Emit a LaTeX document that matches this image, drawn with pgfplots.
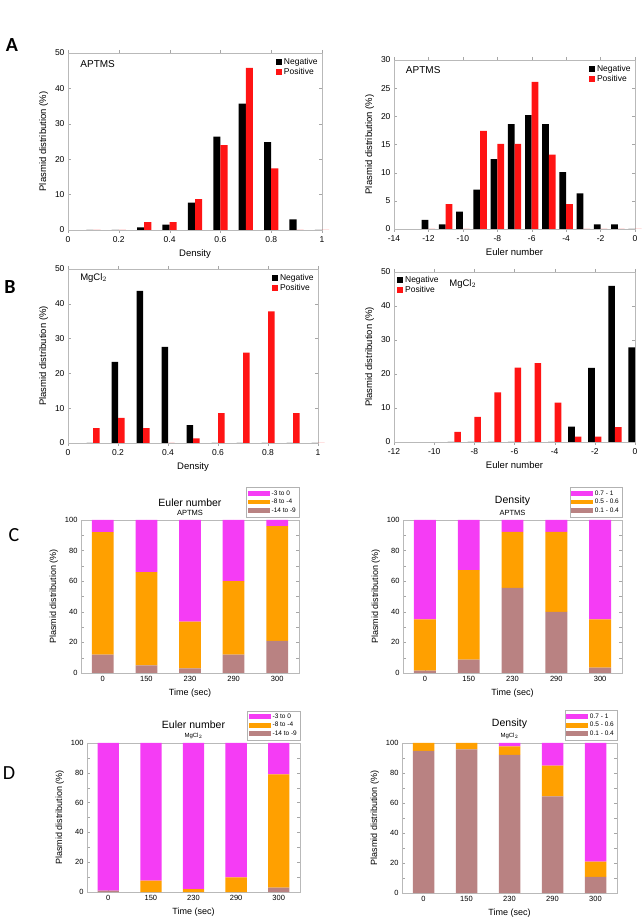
\documentclass[border=0pt]{standalone}
\usepackage{fontspec}
\setmainfont{Liberation Sans}
\newfontfamily\calib{Carlito}
\usepackage{pgfplots}
\pgfplotsset{compat=1.18}
\definecolor{posc}{RGB}{255,20,20}
\definecolor{mag}{RGB}{245,60,245}
\definecolor{org}{RGB}{255,160,0}
\definecolor{brn}{RGB}{185,130,130}
\newcommand{\fs}[1]{\fontsize{#1}{#1}\selectfont}
\pgfplotsset{
  base/.style={scale only axis, clip=false, ymin=0,
    axis line style={gray!55, line width=0.5pt},
    tick style={gray!70}, tick align=inside, major tick length=3pt,
    ticklabel style={font=\fs{8.5}}, label style={font=\fs{9.5}},
    ylabel={Plasmid distribution (\%)},
    /pgf/number format/assume math mode=true},
  hist/.style={base, ybar,
    legend style={draw=none, fill=none, font=\fs{8.5}, inner sep=1pt,
      row sep=-1.5pt, cells={anchor=west}}},
  stk/.style={base, ybar stacked, bar width=0.5, xmin=-0.5, xmax=4.5, ymax=100,
    xtick=data, xticklabels={0,150,230,290,300}, ytick={0,20,...,100},
    minor y tick num=1, xlabel={Time (sec)},
    ticklabel style={font=\fs{7.5}}, label style={font=\fs{9}},
    reverse legend,
    legend style={draw=gray!60, fill=white, font=\fs{6.5}, inner sep=1pt,
      row sep=-1.5pt, at={(1,1.02)}, anchor=south east, cells={anchor=west}}},
  sqleg/.style={legend image code/.code={\fill[##1] (0pt,-3pt) rectangle (6pt,3pt);}},
  recleg/.style={legend image code/.code={\fill[##1] (0pt,-2.3pt) rectangle (22pt,2.3pt);}},
}
\begin{document}
\begin{tikzpicture}
\path[use as bounding box] (0pt,0pt) rectangle (641pt,920pt);
% ---------------- A left
\begin{axis}[hist, at={(68pt,690pt)}, anchor=south west, width=254pt, height=177pt,
  xmin=0, xmax=1, ymax=50, xtick={0,0.2,...,1}, ytick={0,10,...,50},
  xlabel={Density}, bar width=0.028,
  legend style={at={(0.995,0.99)}, anchor=north east}]
\addplot[fill=black, draw=none, bar shift=-0.014, sqleg] coordinates
 {(0.1,0) (0.2,0) (0.3,0.75) (0.4,1.5) (0.5,7.7) (0.6,26.4) (0.7,35.7) (0.8,24.8) (0.9,3.0) (1.0,0)};
\addplot[fill=posc, draw=none, bar shift=0.014, sqleg] coordinates
 {(0.1,0) (0.2,0) (0.3,2.2) (0.4,2.2) (0.5,8.7) (0.6,24.0) (0.7,45.8) (0.8,17.4) (0.9,0) (1.0,0)};
\legend{Negative,Positive}
\node[anchor=west, font=\fs{10}] at (axis description cs:0.035,0.94) {APTMS};
\end{axis}
% ---------------- A right
\begin{axis}[hist, at={(394pt,691pt)}, anchor=south west, width=241pt, height=169pt,
  xmin=-14, xmax=0, ymax=30, xtick={-14,-12,...,0}, ytick={0,5,...,30},
  xlabel={Euler number}, bar width=0.39,
  legend style={at={(0.995,0.99)}, anchor=north east}]
\addplot[fill=black, draw=none, bar shift=-0.195, sqleg] coordinates
 {(-12,1.6) (-11,0.8) (-10,3.1) (-9,7.0) (-8,12.4) (-7,18.6) (-6,20.2) (-5,18.6) (-4,10.1) (-3,6.3) (-2,0.8) (-1,0.8) (0,0)};
\addplot[fill=posc, draw=none, bar shift=0.195, sqleg] coordinates
 {(-12,0) (-11,4.4) (-10,0) (-9,17.4) (-8,15.1) (-7,15.1) (-6,26.1) (-5,13.2) (-4,4.4) (-3,0) (-2,0) (-1,0) (0,0)};
\legend{Negative,Positive}
\node[anchor=west, font=\fs{10}] at (axis description cs:0.035,0.94) {APTMS};
\end{axis}
% ---------------- B left
\begin{axis}[hist, at={(68pt,477pt)}, anchor=south west, width=250pt, height=174pt,
  xmin=0, xmax=1, ymax=50, xtick={0,0.2,...,1}, ytick={0,10,...,50},
  xlabel={Density}, bar width=0.026,
  legend style={at={(0.995,0.99)}, anchor=north east}]
\addplot[fill=black, draw=none, bar shift=-0.013, sqleg] coordinates
 {(0.1,0) (0.2,23.3) (0.3,43.7) (0.4,27.6) (0.5,5.1) (0.6,0) (0.7,0) (0.8,0) (0.9,0) (1.0,0)};
\addplot[fill=posc, draw=none, bar shift=0.013, sqleg] coordinates
 {(0.1,4.3) (0.2,7.2) (0.3,4.3) (0.4,0) (0.5,1.3) (0.6,8.6) (0.7,26.0) (0.8,37.8) (0.9,8.6) (1.0,0)};
\legend{Negative,Positive}
\node[anchor=west, font=\fs{9.5}] at (axis description cs:0.035,0.948) {MgCl$_2$};
\end{axis}
% ---------------- B right
\begin{axis}[hist, at={(394pt,478pt)}, anchor=south west, width=241pt, height=170pt,
  xmin=-12, xmax=0, ymax=50, xtick={-12,-10,...,0}, ytick={0,10,...,50},
  xlabel={Euler number}, bar width=0.33,
  legend style={at={(0.008,0.995)}, anchor=north west}]
\addplot[fill=black, draw=none, bar shift=-0.165, sqleg] coordinates
 {(-9,0) (-8,0) (-7,0) (-6,0) (-5,0) (-4,0) (-3,4.5) (-2,21.8) (-1,45.9) (0,27.8)};
\addplot[fill=posc, draw=none, bar shift=0.165, sqleg] coordinates
 {(-9,2.95) (-8,7.4) (-7,14.6) (-6,21.9) (-5,23.2) (-4,11.6) (-3,1.6) (-2,1.6) (-1,4.4)};
\legend{Negative,Positive}
\node[anchor=west, font=\fs{9.5}] at (axis description cs:0.215,0.93) {MgCl$_2$};
\end{axis}
% ---------------- C left
\begin{axis}[stk, at={(81pt,247pt)}, anchor=south west, width=218pt, height=153pt]
\addplot[fill=brn, draw=none, recleg] coordinates {(0,12) (1,5) (2,3) (3,12) (4,21)};
\addplot[fill=org, draw=none, recleg] coordinates {(0,80) (1,61) (2,30.5) (3,48) (4,75)};
\addplot[fill=mag, draw=none, recleg] coordinates {(0,8) (1,34) (2,66.5) (3,40) (4,4)};
\legend{-14 to -9,-8 to -4,-3 to 0}
\node[font=\fs{10.5}] at (axis description cs:0.5,1.111) {Euler number};
\node[font=\fs{7.5}] at (axis description cs:0.5,1.046) {APTMS};
\end{axis}
% ---------------- C right
\begin{axis}[stk, at={(403pt,247pt)}, anchor=south west, width=219pt, height=153pt]
\addplot[fill=brn, draw=none, recleg] coordinates {(0,1.5) (1,8.7) (2,55.7) (3,40) (4,3.5)};
\addplot[fill=org, draw=none, recleg] coordinates {(0,33.5) (1,58.5) (2,36.5) (3,52.2) (4,31.5)};
\addplot[fill=mag, draw=none, recleg] coordinates {(0,65) (1,32.8) (2,7.8) (3,7.8) (4,65)};
\legend{0.1 - 0.4,0.5 - 0.6,0.7 - 1}
\node[font=\fs{10.5}] at (axis description cs:0.5,1.124) {Density};
\node[font=\fs{7.5}] at (axis description cs:0.5,1.046) {APTMS};
\end{axis}
% ---------------- D left
\begin{axis}[stk, at={(87pt,28pt)}, anchor=south west, width=213pt, height=149pt]
\addplot[fill=brn, draw=none, recleg] coordinates {(0,1) (1,0) (2,0) (3,0) (4,3)};
\addplot[fill=org, draw=none, recleg] coordinates {(0,0) (1,7.6) (2,2) (3,9.8) (4,76)};
\addplot[fill=mag, draw=none, recleg] coordinates {(0,99) (1,92.4) (2,98) (3,90.2) (4,21)};
\legend{-14 to -9,-8 to -4,-3 to 0}
\node[font=\fs{10.5}] at (axis description cs:0.5,1.125) {Euler number};
\node[font=\fs{6}] at (axis description cs:0.5,1.05) {MgCl$_2$};
\end{axis}
% ---------------- D right
\begin{axis}[stk, at={(402pt,27pt)}, anchor=south west, width=215pt, height=150pt]
\addplot[fill=brn, draw=none, recleg] coordinates {(0,94.7) (1,95.8) (2,92) (3,64.4) (4,10.7)};
\addplot[fill=org, draw=none, recleg] coordinates {(0,5.3) (1,4.2) (2,5.8) (3,20.5) (4,10.2)};
\addplot[fill=mag, draw=none, recleg] coordinates {(0,0) (1,0) (2,2.2) (3,15.1) (4,79.1)};
\legend{0.1 - 0.4,0.5 - 0.6,0.7 - 1}
\node[font=\fs{10.5}] at (axis description cs:0.5,1.125) {Density};
\node[font=\fs{6}] at (axis description cs:0.5,1.05) {MgCl$_2$};
\end{axis}
% ---------------- panel letters
\node[font=\calib\bfseries\fs{20}] at (12pt,875pt) {A};
\node[font=\calib\bfseries\fs{20}] at (10pt,633pt) {B};
\node[font=\calib\fs{20}] at (14pt,385pt) {C};
\node[font=\calib\fs{20}] at (9pt,147pt) {D};
\end{tikzpicture}
\end{document}
